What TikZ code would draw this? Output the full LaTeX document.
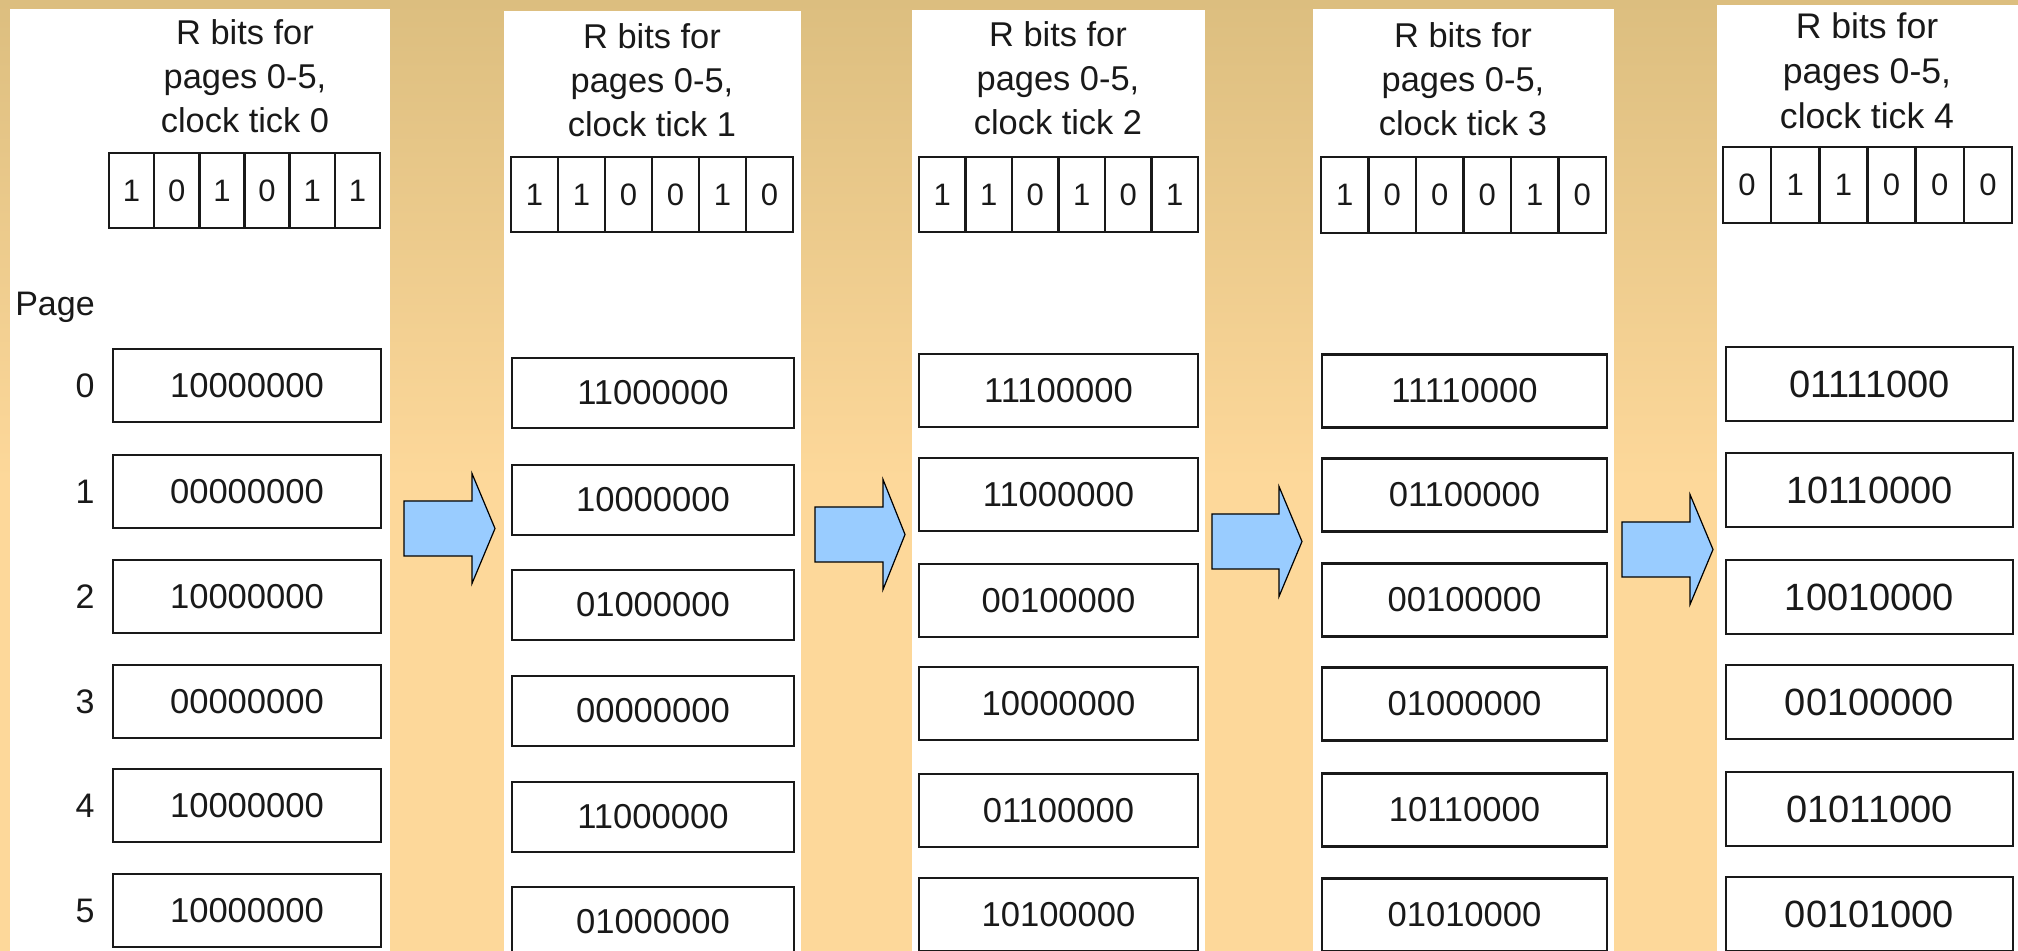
\documentclass[tikz,border=0pt]{standalone}
\usepackage{fontspec}
\setmainfont{Liberation Sans}
\definecolor{bgtop}{RGB}{220,190,127}
\definecolor{bgbot}{RGB}{253,216,154}
\definecolor{arrowblue}{RGB}{153,204,255}
\definecolor{inkc}{RGB}{25,25,25}

% one shift register: "R bits" header with six bit cells
\newcommand\bitrow[6]{% #1 name, #2 x0, #3 x1, #4 y0, #5 y1, #6 bits
  \foreach \b [count=\i from 0] in {#6} {
    \pgfmathsetmacro\cw{(#3-#2)/6}
    \node[bitcell, minimum width=\cw*0.5pt, minimum height={(#5-#4)*0.5pt}]
      (#1b\i) at ({#2+(\i+0.5)*\cw},{(#4+#5)/2}) {\b};
  }}
% the six 8-bit counters of one clock tick
\newcommand\regrows[6]{% #1 prefix, #2 x0, #3 x1, #4 height, #5 font size, #6 centre/value list
  \foreach \yc/\v [count=\i from 0] in {#6} {
    \node[regbox, minimum width={(#3-#2)*0.5pt}, minimum height={#4*0.5pt},
      font=\fontsize{#5}{#5}\selectfont] (#1r\i) at ({(#2+#3)/2},\yc) {\v};
  }}
% block arrow between two ticks
\newcommand\blockarrow[4]{% #1 body left, #2 head base, #3 tip, #4 centre y
  \draw[blockarrow] (#1,{#4-27.5}) -- (#2,{#4-27.5}) -- (#2,{#4-55}) -- (#3,#4)
    -- (#2,{#4+55}) -- (#2,{#4+27.5}) -- (#1,{#4+27.5}) -- cycle;}

\tikzset{
  panel/.style={fill=white},
  hdr/.style={align=center, inner sep=0pt, anchor=north, text=inkc,
    font=\fontsize{17.2}{22}\selectfont},
  bitcell/.style={draw=inkc, line width=1.2pt, inner sep=0pt, outer sep=0pt,
    text=inkc, font=\fontsize{15.5}{15.5}\selectfont},
  regbox/.style={draw=inkc, line width=1.3pt, inner sep=0pt, outer sep=0pt, text=inkc},
  pagenum/.style={inner sep=0pt, text=inkc, font=\fontsize{17}{17}\selectfont},
  blockarrow/.style={fill=arrowblue, draw=black, line width=0.6pt, line join=miter},
}

\begin{document}
\begin{tikzpicture}[x=0.5pt,y=-0.5pt]
\useasboundingbox (0,0) rectangle (2018,951);
% background
\fill[bgbot] (0,0) rectangle (2018,951);
\shade[top color=bgtop, bottom color=bgbot] (0,0) rectangle (2018,480);

% white columns
\fill[panel] (10,9) rectangle (390,951);
\fill[panel] (504,11) rectangle (801,951);
\fill[panel] (912,10) rectangle (1205,951);
\fill[panel] (1313,9) rectangle (1614,951);
\fill[panel] (1717,5) rectangle (2018,951);

% clock tick 0
\node[hdr] (h0) at (245,19) {R bits for\\pages 0-5,\\clock tick 0};
\bitrow{t0}{109}{380}{153}{228}{1,0,1,0,1,1}
\node[pagenum] (pagelbl) at (55,307) {Page};
\regrows{t0}{113}{381}{73}{17.3}{385.5/10000000,491.5/00000000,596.5/10000000,701.5/00000000,805.5/10000000,910.5/10000000}
\foreach \i in {0,...,5} {
  \node[pagenum, anchor=east] (pg\i) at ([xshift=-9pt]t0r\i.west) {\i};
}

% clock tick 1
\node[hdr] (h1) at (652,23) {R bits for\\pages 0-5,\\clock tick 1};
\bitrow{t1}{511}{793}{157}{232}{1,1,0,0,1,0}
\regrows{t1}{512}{794}{70}{17.3}{393/11000000,500/10000000,605/01000000,711/00000000,817/11000000,922/01000000}

% clock tick 2
\node[hdr] (h2) at (1058,21) {R bits for\\pages 0-5,\\clock tick 2};
\bitrow{t2}{919}{1198}{157}{232}{1,1,0,1,0,1}
\regrows{t2}{919}{1198}{73}{17.3}{390.5/11100000,494.5/11000000,600.5/00100000,703.5/10000000,810.5/01100000,914.5/10100000}

% clock tick 3
\node[hdr] (h3) at (1463,22) {R bits for\\pages 0-5,\\clock tick 3};
\bitrow{t3}{1321}{1606}{157}{233}{1,0,0,0,1,0}
\regrows{t3}{1322}{1607}{73}{17.3}{391/11110000,495/01100000,600/00100000,704/01000000,810/10110000,915/01010000}

% clock tick 4
\node[hdr, font=\fontsize{17.8}{22.5}\selectfont] (h4) at (1867,12) {R bits for\\pages 0-5,\\clock tick 4};
\bitrow{t4}{1723}{2012}{147}{223}{0,1,1,0,0,0}
\regrows{t4}{1726}{2013}{74}{19}{384/01111000,490/10110000,597/10010000,702/00100000,809/01011000,914/00101000}

% arrows between ticks
\blockarrow{404}{472}{495}{528.5}
\blockarrow{815}{883}{905}{534.5}
\blockarrow{1212}{1279}{1302}{541.5}
\blockarrow{1622}{1690}{1713}{549.5}
\end{tikzpicture}
\end{document}
